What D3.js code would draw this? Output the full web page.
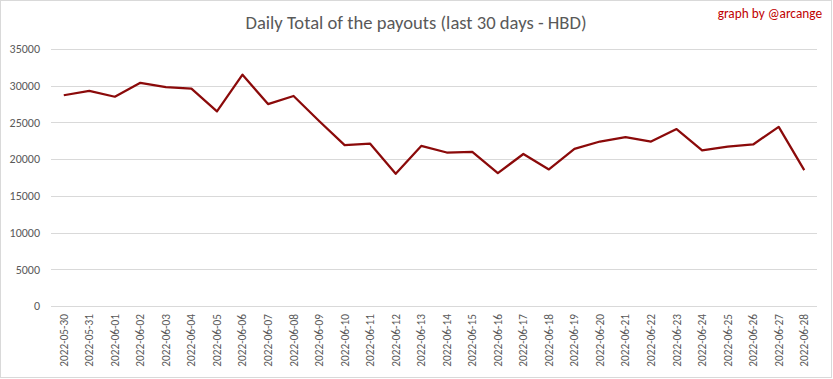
<!DOCTYPE html>
<html><head><meta charset="utf-8">
<script src="https://cdn.jsdelivr.net/npm/d3@7"></script>
<style>html,body{margin:0;padding:0;background:#fff;}svg{display:block;}</style>
</head><body>
<script>
const dates = ["2022-05-30","2022-05-31","2022-06-01","2022-06-02","2022-06-03","2022-06-04","2022-06-05","2022-06-06","2022-06-07","2022-06-08","2022-06-09","2022-06-10","2022-06-11","2022-06-12","2022-06-13","2022-06-14","2022-06-15","2022-06-16","2022-06-17","2022-06-18","2022-06-19","2022-06-20","2022-06-21","2022-06-22","2022-06-23","2022-06-24","2022-06-25","2022-06-26","2022-06-27","2022-06-28"];
const payouts = [28700,29300,28500,30400,29800,29600,26500,31500,27500,28600,25200,21900,22100,18000,21800,20900,21000,18100,20700,18600,21400,22400,23000,22400,24100,21200,21700,22000,24400,18500];
const yTicks = [0,5000,10000,15000,20000,25000,30000,35000];
const titleText = "Daily Total of the payouts (last 30 days - HBD)";
const creditText = "graph by @arcange";

const W = 833, H = 379;
const m = {left:51, right:16, top:49, bottom:73};
const svg = d3.select("body").append("svg").attr("width",W).attr("height",H);
svg.append("rect").attr("x",0.5).attr("y",0.5).attr("width",W-2).attr("height",H-2)
  .attr("fill","#fff").attr("stroke","#d9d9d9");

const x = d3.scaleBand().domain(dates).range([m.left, W-m.right]);
const y = d3.scaleLinear().domain([0,35000]).range([H-m.bottom, m.top]);

const font = "Calibri, Carlito, 'Open Sans', sans-serif";

// grid
svg.append("g").selectAll("line").data(yTicks).join("line")
  .attr("x1",m.left).attr("x2",W-m.right)
  .attr("y1",d=>Math.round(y(d))+0.5).attr("y2",d=>Math.round(y(d))+0.5)
  .attr("stroke","#d9d9d9").attr("stroke-width",1);

// y axis
const ya = svg.append("g").attr("transform",`translate(${m.left-11},0)`)
  .call(d3.axisLeft(y).tickValues(yTicks).tickSize(0).tickPadding(0).tickFormat(d3.format("d")));
ya.select(".domain").remove();
ya.selectAll("text").attr("fill","#595959").style("font-family",font).style("font-size","12px");

// x axis
const xa = svg.append("g").attr("transform",`translate(0,${H-m.bottom})`)
  .call(d3.axisBottom(x).tickSize(0).tickPadding(0));
xa.select(".domain").remove();
xa.selectAll("text").attr("fill","#595959").style("font-family",font).style("font-size","11.3px")
  .attr("text-anchor","end").attr("dy","0.35em")
  .attr("transform","translate(0,8) rotate(-90)");

// line
const line = d3.line().x((d,i)=>x(dates[i])+x.bandwidth()/2).y(d=>y(d));
svg.append("path").datum(payouts).attr("d",line)
  .attr("fill","none").attr("stroke","#8b0a0a").attr("stroke-width",2.25)
  .attr("stroke-linejoin","round");

// title
svg.append("text").attr("x",416).attr("y",29).attr("text-anchor","middle")
  .attr("fill","#595959").style("font-family",font).style("font-size","18.6px").text(titleText);
svg.append("text").attr("x",822).attr("y",18).attr("text-anchor","end")
  .attr("fill","#c00000").style("font-family",font).style("font-size","13.3px").text(creditText);
</script>
</body></html>
